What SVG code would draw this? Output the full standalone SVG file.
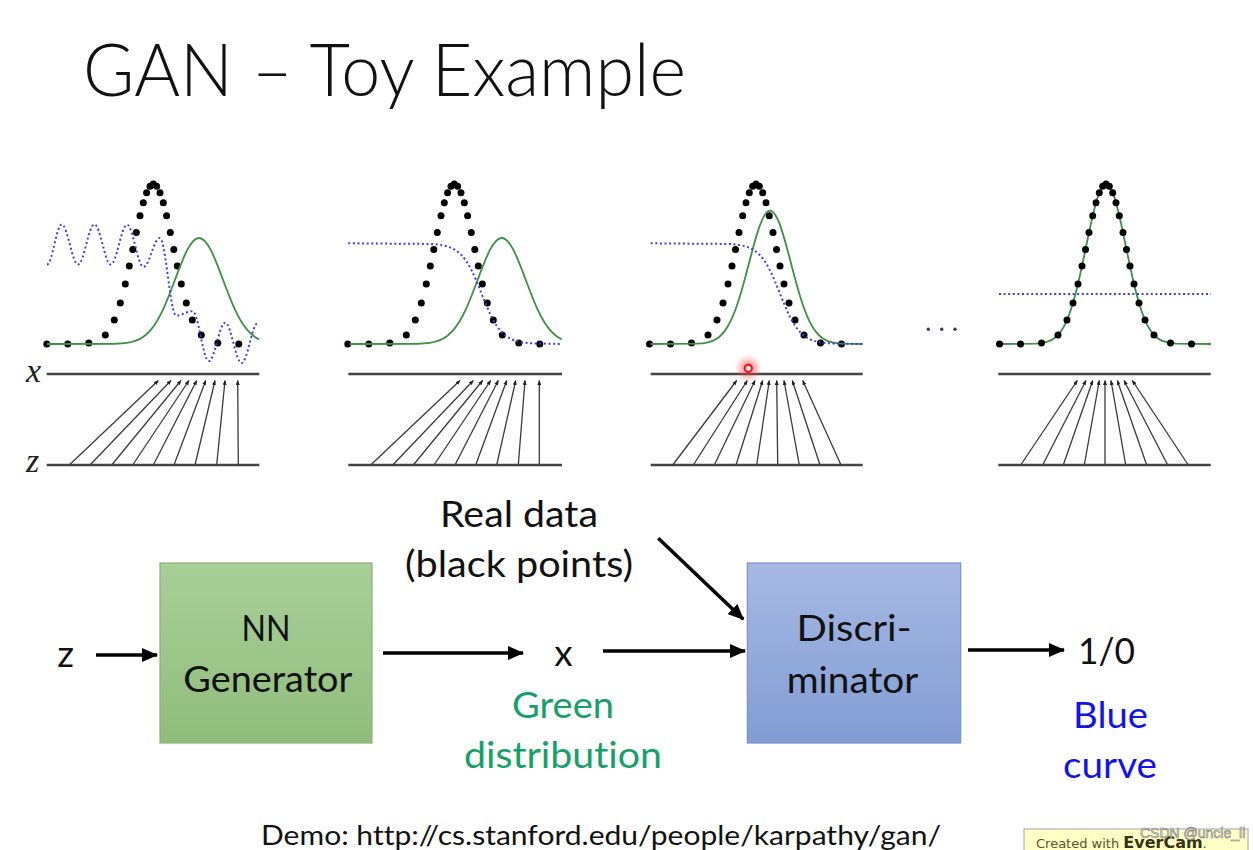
<svg xmlns="http://www.w3.org/2000/svg" xmlns:xlink="http://www.w3.org/1999/xlink" width="1253" height="850" viewBox="0 0 1253 850">
<style>
.t{font-family:Lato,"Open Sans","Liberation Sans",sans-serif;fill:#111;font-variant-ligatures:none;}
.lbl{font-size:37px;text-anchor:middle;}
.axis{stroke:#444;stroke-width:2.4;fill:none;}
.map{stroke:#3a3a3a;stroke-width:1.3;fill:none;marker-end:url(#tiny);}
.green{stroke:#3f8f46;stroke-width:1.8;fill:none;}
.blue{stroke:#4040d8;stroke-width:2;fill:none;stroke-dasharray:2 2.6;}
.var{font-family:"Liberation Serif","DejaVu Serif",serif;font-style:italic;font-size:34px;fill:#222;}
.conn{stroke:#000;stroke-width:3.5;fill:none;marker-end:url(#big);}
</style>
<defs>
<marker id="tiny" viewBox="0 0 5 4" refX="4.5" refY="2" markerWidth="5" markerHeight="4" markerUnits="userSpaceOnUse" orient="auto"><path d="M0,0 L5,2 L0,4 z" fill="#222"/></marker>
<marker id="big" viewBox="0 0 16 14" refX="15" refY="7" markerWidth="16" markerHeight="14" markerUnits="userSpaceOnUse" orient="auto"><path d="M0,0 L16,7 L0,14 z" fill="#000"/></marker>
<linearGradient id="gGen" x1="0" y1="0" x2="0" y2="1"><stop offset="0" stop-color="#a9cf99"/><stop offset="1" stop-color="#90bd7c"/></linearGradient>
<linearGradient id="gDis" x1="0" y1="0" x2="0" y2="1"><stop offset="0" stop-color="#a6b9e2"/><stop offset="1" stop-color="#829cd4"/></linearGradient>
<radialGradient id="glow"><stop offset="0" stop-color="#ff2020" stop-opacity="0.75"/><stop offset="0.5" stop-color="#ff4040" stop-opacity="0.35"/><stop offset="1" stop-color="#ff6060" stop-opacity="0"/></radialGradient>
<g id="dots" fill="#000">
<circle cx="-106.5" cy="344" r="3.5"/><circle cx="-85.5" cy="344" r="3.5"/><circle cx="-64.5" cy="343.1" r="3.5"/>
<circle cx="-48" cy="335" r="3.5"/><circle cx="-39" cy="320.1" r="3.5"/><circle cx="-33" cy="303" r="3.5"/>
<circle cx="-28" cy="284" r="3.5"/><circle cx="-24" cy="266.1" r="3.5"/><circle cx="-20.5" cy="249.4" r="3.5"/>
<circle cx="-17" cy="232.5" r="3.5"/><circle cx="-13.3" cy="215.7" r="3.5"/><circle cx="-10" cy="202.8" r="3.5"/>
<circle cx="-6.7" cy="192.7" r="3.5"/><circle cx="-3.3" cy="186.2" r="3.5"/><circle cx="0" cy="184" r="3.5"/>
<circle cx="3.3" cy="186.2" r="3.5"/><circle cx="6.7" cy="192.7" r="3.5"/><circle cx="10" cy="202.8" r="3.5"/>
<circle cx="13.3" cy="215.7" r="3.5"/><circle cx="17" cy="232.5" r="3.5"/><circle cx="20.5" cy="249.4" r="3.5"/>
<circle cx="24" cy="266.1" r="3.5"/><circle cx="28" cy="284" r="3.5"/><circle cx="33" cy="303" r="3.5"/>
<circle cx="39" cy="320.1" r="3.5"/><circle cx="48" cy="335" r="3.5"/><circle cx="64.5" cy="343.1" r="3.5"/>
<circle cx="85.5" cy="344" r="3.5"/>
</g>
<path id="green12" d="M47,344 L115,343.77 C119,343.63 123,343.41 127,342.82 C131,342.23 135,341.28 139,339.34 C143,337.40 147,334.43 151,329.65 C155,324.87 159,318.19 163,309.59 C167,300.99 171,290.43 175,279.71 C179,268.99 183,258.26 187,250.46 C191,242.66 195,238 199,238 C203,238 207,242.66 211,250.46 C215,258.26 219,268.99 223,279.71 C227,290.43 231,300.99 235,309.59 C239,318.19 243,324.87 247,329.65 C251,334.43 255,337.40 259,339.34"/>
</defs>

<rect width="1253" height="850" fill="#fff"/>

<g id="title"><text class="t" x="83" y="96" font-size="72" font-weight="300" textLength="603" lengthAdjust="spacingAndGlyphs">GAN – Toy Example</text></g>

<g id="panel1">
<text class="var" x="26" y="382">x</text>
<text class="var" x="26" y="472">z</text>
<line class="axis" x1="46.7" y1="374" x2="259.3" y2="374"/>
<line class="axis" x1="46.7" y1="465" x2="259.3" y2="465"/>
<use href="#dots" x="153.3"/>
<use href="#green12" class="green"/>
<path class="blue" d="M47,264.5 C52.35,264.5 56.35,224.5 61.7,224.5 C67.65,224.5 72.1,264.5 78.05,264.5 C84,264.5 88.45,224.5 94.4,224.5 C100.35,224.5 104.8,264.5 110.75,264.5 C116.7,264.5 121.15,224.8 127.1,224.8 C133.05,224.8 137.5,266.8 143.45,266.8 C149.4,266.8 153.85,238 159.8,238 C165.75,238 170.2,315.6 176.15,315.6 C182.1,315.6 186.55,311.2 192.5,311.2 C198.45,311.2 202.9,361.1 208.85,361.1 C214.8,361.1 219.25,322.7 225.2,322.7 C231.15,322.7 235.6,363 241.55,363 C247.5,363 251.95,323 257.9,323"/>
<line class="map" x1="69.3" y1="465" x2="158.3" y2="380.5"/>
<line class="map" x1="90" y1="465" x2="171" y2="380.5"/>
<line class="map" x1="111.7" y1="465" x2="181" y2="380.5"/>
<line class="map" x1="132.7" y1="465" x2="189" y2="380.5"/>
<line class="map" x1="153.3" y1="465" x2="196.7" y2="380.5"/>
<line class="map" x1="174" y1="465" x2="205.7" y2="380.5"/>
<line class="map" x1="195" y1="465" x2="215" y2="380.5"/>
<line class="map" x1="216.7" y1="465" x2="225" y2="380.5"/>
<line class="map" x1="238.3" y1="465" x2="237.7" y2="380.5"/>
</g>

<g id="panel2">
<line class="axis" x1="348.3" y1="374" x2="562" y2="374"/>
<line class="axis" x1="348.3" y1="465" x2="562" y2="465"/>
<use href="#dots" x="454.3"/>
<use href="#green12" class="green" x="302.7"/>
<path class="blue" d="M348.3,243.3 L431.6,243.97 C434.93,244.19 438.27,244.52 441.6,245.11 C444.93,245.70 448.27,246.56 451.6,248.08 C454.93,249.60 458.27,251.78 461.6,255.30 C464.93,258.82 468.27,263.78 471.6,270.38 C474.93,276.98 478.27,285.26 481.6,293.65 C484.93,302.04 488.27,310.32 491.6,316.92 C494.93,323.52 498.27,328.48 501.6,332.0 C504.93,335.52 508.27,337.70 511.6,339.22 C514.93,340.74 518.27,341.60 521.6,342.19 C524.93,342.78 528.27,343.11 531.6,343.33 L561,344"/>
<line class="map" x1="370.7" y1="465" x2="460" y2="380.5"/>
<line class="map" x1="392.7" y1="465" x2="473.3" y2="380.5"/>
<line class="map" x1="413.3" y1="465" x2="482.7" y2="380.5"/>
<line class="map" x1="434" y1="465" x2="490.7" y2="380.5"/>
<line class="map" x1="455" y1="465" x2="498.3" y2="380.5"/>
<line class="map" x1="475.7" y1="465" x2="506.7" y2="380.5"/>
<line class="map" x1="496.7" y1="465" x2="515.7" y2="380.5"/>
<line class="map" x1="518.3" y1="465" x2="525" y2="380.5"/>
<line class="map" x1="539.3" y1="465" x2="539.3" y2="380.5"/>
</g>

<g id="panel3">
<line class="axis" x1="650.7" y1="374" x2="862.7" y2="374"/>
<line class="axis" x1="650.7" y1="465" x2="862.7" y2="465"/>
<use href="#dots" x="756"/>
<path class="green" d="M650.7,344 L696.5,343.71 C700,343.54 703.5,343.26 707,342.52 C710.5,341.78 714,340.58 717.5,338.14 C721,335.70 724.5,331.97 728,325.96 C731.5,319.95 735,311.54 738.5,300.72 C742,289.90 745.5,276.63 749,263.15 C752.5,249.67 756,236.16 759.5,226.36 C763,216.56 766.5,210.7 770,210.7 C773.5,210.7 777,216.56 780.5,226.36 C784,236.16 787.5,249.67 791,263.15 C794.5,276.63 798,289.90 801.5,300.72 C805,311.54 808.5,319.95 812,325.96 C815.5,331.97 819,335.70 822.5,338.14 C826,340.58 829.5,341.78 833,342.52 C836.5,343.26 840,343.54 843.5,343.71 L862.7,344"/>
<path class="blue" d="M650.7,243.3 L730,243.97 C733.33,244.19 736.67,244.52 740,245.11 C743.33,245.70 746.67,246.56 750,248.08 C753.33,249.60 756.67,251.78 760,255.30 C763.33,258.82 766.67,263.78 770,270.38 C773.33,276.98 776.67,285.26 780,293.65 C783.33,302.04 786.67,310.32 790,316.92 C793.33,323.52 796.67,328.48 800,332.0 C803.33,335.52 806.67,337.70 810,339.22 C813.33,340.74 816.67,341.60 820,342.19 C823.33,342.78 826.67,343.11 830,343.33 L862.7,344"/>
<line class="map" x1="672.7" y1="465" x2="736.7" y2="380.5"/>
<line class="map" x1="693.3" y1="465" x2="747.3" y2="380.5"/>
<line class="map" x1="714.3" y1="465" x2="755" y2="380.5"/>
<line class="map" x1="736" y1="465" x2="762.7" y2="380.5"/>
<line class="map" x1="756.7" y1="465" x2="769.3" y2="380.5"/>
<line class="map" x1="777.7" y1="465" x2="776.7" y2="380.5"/>
<line class="map" x1="799.3" y1="465" x2="784" y2="380.5"/>
<line class="map" x1="820" y1="465" x2="792.3" y2="380.5"/>
<line class="map" x1="841" y1="465" x2="802.7" y2="380.5"/>
<circle cx="748.3" cy="368.3" r="14" fill="url(#glow)"/>
<circle cx="748.3" cy="368.3" r="3.6" fill="#ffe0e0" stroke="#e8141c" stroke-width="2"/>
</g>

<g id="ellipsis" fill="#3a3a66">
<circle cx="928.3" cy="329.3" r="1.7"/><circle cx="941.7" cy="329.3" r="1.7"/><circle cx="955" cy="329.3" r="1.7"/>
</g>

<g id="panel4">
<line class="axis" x1="998.3" y1="374" x2="1210.7" y2="374"/>
<line class="axis" x1="998.3" y1="465" x2="1210.7" y2="465"/>
<path class="green" d="M999,344 L1036,343.65 C1039.33,343.45 1042.67,343.11 1046,342.22 C1049.33,341.33 1052.67,339.90 1056,336.97 C1059.33,334.04 1062.67,329.57 1066,322.35 C1069.33,315.13 1072.67,305.05 1076,292.06 C1079.33,279.07 1082.67,263.13 1086,246.96 C1089.33,230.79 1092.67,214.57 1096,202.8 C1099.33,191.03 1102.67,184 1106,184 C1109.33,184 1112.67,191.03 1116,202.8 C1119.33,214.57 1122.67,230.79 1126,246.96 C1129.33,263.13 1132.67,279.07 1136,292.06 C1139.33,305.05 1142.67,315.13 1146,322.35 C1149.33,329.57 1152.67,334.04 1156,336.97 C1159.33,339.90 1162.67,341.33 1166,342.22 C1169.33,343.11 1172.67,343.45 1176,343.65 L1211,344"/>
<use href="#dots" x="1106"/>
<line class="blue" x1="999" y1="294" x2="1211" y2="294"/>
<line class="map" x1="1020.7" y1="465" x2="1077.3" y2="380.5"/>
<line class="map" x1="1042.7" y1="465" x2="1086" y2="380.5"/>
<line class="map" x1="1063.3" y1="465" x2="1092.7" y2="380.5"/>
<line class="map" x1="1084.3" y1="465" x2="1099.3" y2="380.5"/>
<line class="map" x1="1105" y1="465" x2="1105" y2="380.5"/>
<line class="map" x1="1125.7" y1="465" x2="1111" y2="380.5"/>
<line class="map" x1="1146.7" y1="465" x2="1117.3" y2="380.5"/>
<line class="map" x1="1167.7" y1="465" x2="1124" y2="380.5"/>
<line class="map" x1="1188.3" y1="465" x2="1132.3" y2="380.5"/>
</g>

<g id="node-real-data">
<text class="t lbl" x="519" y="527" textLength="158" lengthAdjust="spacingAndGlyphs">Real data</text>
<text class="t lbl" x="519" y="577" textLength="228" lengthAdjust="spacingAndGlyphs">(black points)</text>
</g>

<g id="node-z"><text class="t lbl" x="65.5" y="667">z</text></g>

<g id="node-generator">
<rect x="160" y="563" width="212" height="180" fill="url(#gGen)" stroke="#87b276" stroke-width="1.2"/>
<text class="t lbl" x="266" y="641" textLength="49" lengthAdjust="spacingAndGlyphs">NN</text>
<text class="t lbl" x="267.8" y="692" textLength="169" lengthAdjust="spacingAndGlyphs">Generator</text>
</g>

<g id="node-x">
<text class="t lbl" x="563.5" y="666">x</text>
<text class="t lbl" x="563" y="718" style="fill:#16a06a" textLength="102" lengthAdjust="spacingAndGlyphs">Green</text>
<text class="t lbl" x="563" y="768" style="fill:#16a06a" textLength="198" lengthAdjust="spacingAndGlyphs">distribution</text>
</g>

<g id="node-discriminator">
<rect x="747.3" y="563" width="213.4" height="180" fill="url(#gDis)" stroke="#7892cb" stroke-width="1.2"/>
<text class="t lbl" x="854" y="641" textLength="115" lengthAdjust="spacingAndGlyphs">Discri-</text>
<text class="t lbl" x="852.5" y="693" textLength="131.6" lengthAdjust="spacingAndGlyphs">minator</text>
</g>

<g id="node-output">
<text class="t lbl" x="1106.5" y="664" textLength="57" lengthAdjust="spacingAndGlyphs">1/0</text>
<text class="t lbl" x="1110.5" y="728" style="fill:#1414e6" textLength="75" lengthAdjust="spacingAndGlyphs">Blue</text>
<text class="t lbl" x="1110" y="778" style="fill:#1414e6" textLength="94" lengthAdjust="spacingAndGlyphs">curve</text>
</g>

<g id="connectors">
<line class="conn" x1="96" y1="655" x2="157" y2="655"/>
<line class="conn" x1="383" y1="653" x2="523" y2="653"/>
<line class="conn" x1="603" y1="651" x2="745" y2="651"/>
<line class="conn" x1="658.3" y1="538.3" x2="743.3" y2="619.3"/>
<line class="conn" x1="968" y1="650" x2="1064" y2="650"/>
</g>

<g id="demo"><text class="t" x="261" y="845" font-size="27" textLength="680" lengthAdjust="spacingAndGlyphs">Demo: http://cs.stanford.edu/people/karpathy/gan/</text></g>

<g id="watermark">
<rect x="1024" y="829" width="224" height="26" fill="#ffffc6" stroke="#a3a3a3" stroke-width="1"/>
<text x="1036" y="848" font-family="'DejaVu Sans',sans-serif" font-size="13" fill="#55552e">Created with <tspan font-weight="bold" font-size="16" fill="#33330f">EverCam</tspan>.</text>
<text x="1140" y="838" font-family="'Liberation Sans',sans-serif" font-size="14" fill="#f2f2f2" stroke="#7a7a7a" stroke-width="0.6">CSDN @uncle_ll</text>
</g>
</svg>
